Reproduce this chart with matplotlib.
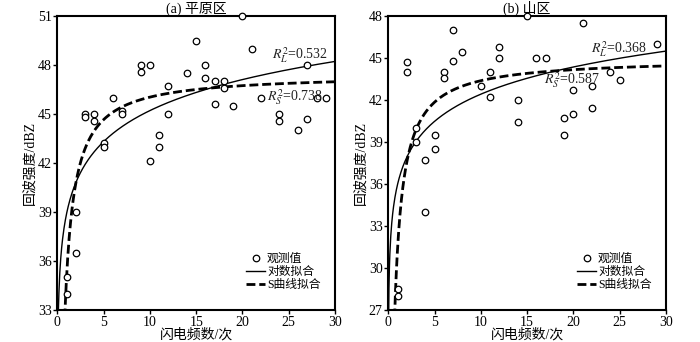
import numpy as np
import matplotlib.pyplot as plt

plt.rcParams['font.family'] = ['Liberation Serif', 'Noto Sans CJK SC']
plt.rcParams['mathtext.fontset'] = 'stix'

# (a) plain region observations
plain_x = [1, 1, 2, 2, 3, 3, 4, 4, 5, 5, 6, 7, 7, 9, 9, 10, 10, 11, 11, 12, 12,
           14, 15, 16, 16, 17, 17, 18, 18, 19, 20, 21, 22, 24, 24, 26, 27, 27, 28, 29]
plain_y = [35.0, 34.0, 39.0, 36.5, 45.0, 44.8, 45.0, 44.6, 43.2, 43.0, 46.0, 45.2, 45.0,
           48.0, 47.6, 48.0, 42.1, 43.7, 43.0, 46.7, 45.0,
           47.5, 49.5, 48.0, 47.2, 47.0, 45.6, 47.0, 46.6, 45.5, 51.0, 49.0, 46.0,
           45.0, 44.6, 44.0, 48.0, 44.7, 46.0, 46.0]

# (b) mountain region observations
mount_x = [1, 1, 2, 2, 3, 3, 4, 4, 5, 5, 6, 6, 7, 7, 8, 10, 11, 11, 12, 12,
           14, 14, 15, 16, 17, 19, 19, 20, 20, 21, 22, 22, 24, 25, 29]
mount_y = [28.5, 28.0, 44.7, 44.0, 40.0, 39.0, 37.7, 34.0, 39.5, 38.5, 44.0, 43.6, 47.0, 44.8,
           45.4, 43.0, 44.0, 42.2, 45.8, 45.0,
           42.0, 40.4, 48.0, 45.0, 45.0, 40.7, 39.5, 42.7, 41.0, 47.5, 43.0, 41.4,
           44.0, 43.4, 46.0]

# fit coefficients: log y = a + b*ln(x), S y = exp(b0 + b1/x)
plain_log = [38.9, 2.74]
plain_s = [3.8597, -0.3035]
mount_log = [35.97, 2.80]
mount_s = [3.806, -0.36]

titles = ['(a) 平原区', '(b) 山区']
r2_labels = [['$R_L^2$=0.532', '$R_S^2$=0.738'], ['$R_L^2$=0.368', '$R_S^2$=0.587']]
r2_pos = [[(23.2, 48.6), (22.7, 46.0)], [(21.9, 45.6), (16.8, 43.4)]]
ylims = [(33, 51), (27, 48)]

fig = plt.figure(figsize=(7, 3.42), dpi=100)
ax1 = fig.add_axes([0.0819, 0.0936, 0.3967, 0.8596])
ax2 = fig.add_axes([0.5547, 0.0936, 0.3967, 0.8596])

panels = [(ax1, plain_x, plain_y, plain_log, plain_s),
          (ax2, mount_x, mount_y, mount_log, mount_s)]

for i, (ax, xs, ys, lg, sc) in enumerate(panels):
  lo, hi = ylims[i]
  t = np.linspace(0.02, 30, 600)
  ax.scatter(xs, ys, s=22, facecolors='white', edgecolors='black', linewidths=0.9,
             zorder=3, label='观测值', clip_on=False)
  ax.plot(t, lg[0] + lg[1] * np.log(t), color='black', lw=1.0, label='对数拟合')
  ax.plot(t, np.exp(sc[0] + sc[1] / t), color='black', lw=2.0, ls=(0, (3.2, 1.4)),
          label='S曲线拟合')
  ax.set_xlim(0, 30)
  ax.set_ylim(lo, hi)
  ax.set_xticks(range(0, 31, 5))
  ax.set_yticks(range(lo, hi + 1, 3))
  ax.tick_params(direction='out', length=3, width=1, labelsize=10, pad=1)
  for sp in ax.spines.values():
    sp.set_linewidth(1.5)
  ax.set_title(titles[i], fontsize=10, pad=1)
  ax.set_xlabel('闪电频数/次', fontsize=10, labelpad=0)
  ax.set_ylabel('回波强度/dBZ', fontsize=10, labelpad=1)
  for lab, (px, py) in zip(r2_labels[i], r2_pos[i]):
    ax.text(px, py, lab, fontsize=10, ha='left', va='center', color='#222222')
  ax.legend(loc='lower right', bbox_to_anchor=(0.948, 0.065), frameon=False, fontsize=8.5,
            handlelength=1.6, handletextpad=0.15, labelspacing=0.1, borderaxespad=0,
            borderpad=0)

fig.savefig('out.png', dpi=100)
